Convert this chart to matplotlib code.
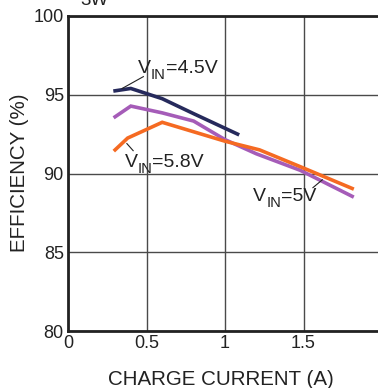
import matplotlib
matplotlib.use("Agg")
import matplotlib.pyplot as plt
from matplotlib.transforms import offset_copy

plt.rcParams['font.family'] = ['Liberation Sans', 'DejaVu Sans']

# Efficiency vs charge current for three input voltages
i_45 = [0.30, 0.40, 0.60, 0.80, 1.08]
eff_45 = [95.25, 95.40, 94.75, 93.80, 92.50]

i_50 = [0.30, 0.40, 0.60, 0.80, 1.00, 1.20, 1.48, 1.81]
eff_50 = [93.60, 94.28, 93.85, 93.33, 92.15, 91.25, 90.20, 88.55]

i_58 = [0.30, 0.38, 0.60, 0.80, 1.00, 1.22, 1.48, 1.81]
eff_58 = [91.50, 92.25, 93.25, 92.65, 92.05, 91.50, 90.43, 89.05]

x_ticks = [0, 0.5, 1, 1.5, 2]
x_labels = ["0", "0.5", "1", "1.5", "2"]
y_ticks = [80, 85, 90, 95, 100]

fig = plt.figure(figsize=(3.78, 3.88), dpi=100)
ax = fig.add_axes([68 / 378, 57 / 388, 314 / 378, 315 / 388])

navy = "#262a5c"
purple = "#a55cb8"
orange = "#f56a22"
ink = "#222222"

ax.plot(i_45, eff_45, color=navy, lw=2.6, solid_joinstyle='miter', zorder=3)
ax.plot(i_50, eff_50, color=purple, lw=2.6, solid_joinstyle='miter', zorder=3)
ax.plot(i_58, eff_58, color=orange, lw=2.6, solid_joinstyle='miter', zorder=4)

ax.set_xlim(0, 2)
ax.set_ylim(80, 100)
ax.set_xticks(x_ticks)
ax.set_xticklabels(x_labels)
ax.set_yticks(y_ticks)
ax.grid(True, color="#4a4a4a", lw=1.0)
ax.set_axisbelow(True)
ax.tick_params(length=0, labelsize=13, colors=ink, pad=3)

for side in ("left", "bottom", "top"):
    ax.spines[side].set_linewidth(2.0)
    ax.spines[side].set_color(ink)
ax.spines["right"].set_visible(False)

ax.set_xlabel("CHARGE CURRENT (A)", fontsize=14.8, color=ink)
ax.set_ylabel("EFFICIENCY (%)", fontsize=14.8, color=ink)
ax.xaxis.set_label_coords(153 / 314, -39 / 315)
ax.yaxis.set_label_coords(-39 / 314, 158 / 315)

renderer = fig.canvas.get_renderer()


def vin_label(x, y, value, size=14.0):
    """Draw V with an IN subscript followed by '=value'."""
    t = ax.text(x, y, "V", fontsize=size, color=ink, ha="left", va="baseline")
    w = t.get_window_extent(renderer).width
    tr = offset_copy(ax.transData, fig=fig, x=w * 72 / fig.dpi,
                     y=-4.0, units="points")
    s = ax.text(x, y, "IN", fontsize=size * 0.76, color=ink,
                ha="left", va="baseline", transform=tr)
    w2 = s.get_window_extent(renderer).width
    tr2 = offset_copy(ax.transData, fig=fig, x=(w + w2) * 72 / fig.dpi,
                      y=0, units="points")
    ax.text(x, y, "=" + value, fontsize=size, color=ink,
            ha="left", va="baseline", transform=tr2)


vin_label(0.445, 96.35, "4.5V")
ax.plot([0.345, 0.48], [95.4, 96.15], color=ink, lw=0.8, zorder=5)

vin_label(0.36, 90.4, "5.8V")
ax.plot([0.375, 0.415], [91.9, 91.45], color=ink, lw=0.8, zorder=5)

vin_label(1.18, 88.25, "5V")
ax.plot([1.56, 1.62], [89.1, 89.6], color=ink, lw=0.8, zorder=5)

fig.text(80 / 378, 1 - 5 / 388, "3W", fontsize=13.5, color=ink,
         ha="left", va="baseline")

fig.savefig("out.png", dpi=100)
